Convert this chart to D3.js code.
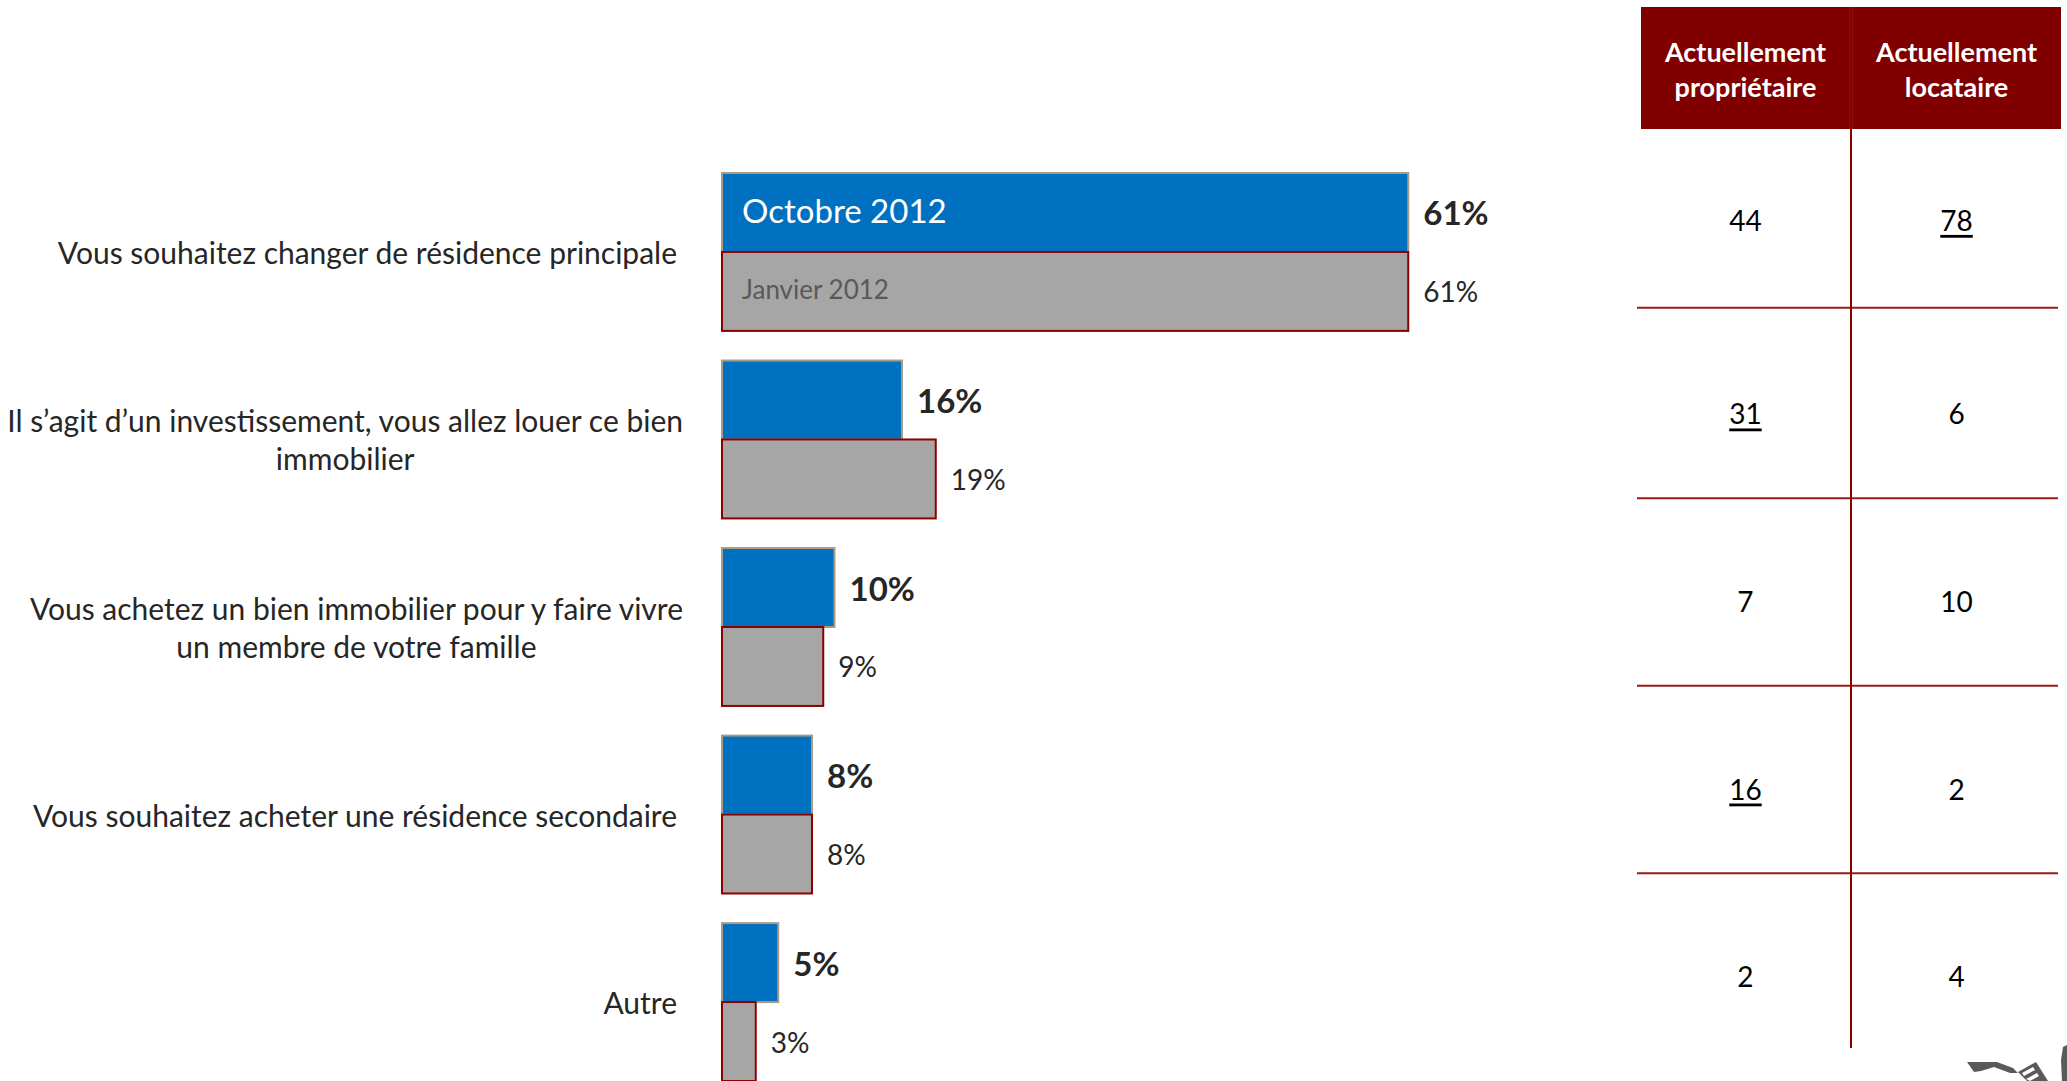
<!DOCTYPE html>
<html lang="fr">
<head>
<meta charset="utf-8">
<script src="https://cdn.jsdelivr.net/npm/d3@7"></script>
<style>
  html, body { margin: 0; padding: 0; background: #fff; }
  svg { display: block; font-family: Lato, "Open Sans", sans-serif; }
</style>
</head>
<body>
<svg id="chart" width="2067" height="1081"></svg>
<script>
// Motifs d'achat immobilier : comparaison octobre / janvier 2012, et détail par statut
const categories = [
  ["Vous souhaitez changer de résidence principale"],
  ["Il s’agit d’un investissement, vous allez louer ce bien", "immobilier"],
  ["Vous achetez un bien immobilier pour y faire vivre", "un membre de votre famille"],
  ["Vous souhaitez acheter une résidence secondaire"],
  ["Autre"]
];
const seriesNames = ["Octobre 2012", "Janvier 2012"];
const octobre2012 = [61, 16, 10, 8, 5];
const janvier2012 = [61, 19, 9, 8, 3];

const tableHeaders = [["Actuellement", "propriétaire"], ["Actuellement", "locataire"]];
const proprietaire = [44, 31, 7, 16, 2];
const locataire = [78, 6, 10, 2, 4];
// valeurs significativement supérieures (soulignées)
const proprietaireSignif = [false, true, false, true, false];
const locataireSignif = [true, false, false, false, false];

const svg = d3.select("#chart");
const BLUE = "#0070c0";
const GREY = "#a6a6a6";
const TEXT = "#262626";

// ---- scales
const x = d3.scaleLinear().domain([0, 100]).range([722, 1847]);
const y = d3.scaleBand()
  .domain(d3.range(categories.length))
  .range([173, 1081])
  .paddingInner(0.158)
  .paddingOuter(0);
const ySeries = d3.scaleBand().domain([0, 1]).range([0, y.bandwidth()]);

const rows = categories.map((lines, i) => ({
  i, lines,
  values: [octobre2012[i], janvier2012[i]]
}));

// ---- category labels (text boxes right-bounded, lines centred)
const labelRight = 683;
const lineGap = 38;
const labelG = svg.append("g");
rows.forEach(r => {
  const cy = y(r.i) + y.bandwidth() / 2;
  const t = labelG.append("text")
    .attr("fill", TEXT)
    .attr("font-size", 30)
    .attr("text-anchor", "middle")
    .attr("dominant-baseline", "central");
  r.lines.forEach((ln, k) => {
    t.append("tspan").text(ln)
      .attr("y", cy + (k - (r.lines.length - 1) / 2) * lineGap);
  });
  // width of longest line defines the box centre
  let w = 0;
  t.selectAll("tspan").each(function () { w = Math.max(w, this.getComputedTextLength()); });
  const right = r.lines.length > 1 ? labelRight : labelRight - 6;
  t.selectAll("tspan").attr("x", right - w / 2);
});

// ---- bars
const groups = svg.append("g").selectAll("g").data(rows).join("g")
  .attr("transform", d => `translate(0,${y(d.i)})`);

groups.selectAll("rect").data(d => d.values.map((v, s) => ({ v, s, i: d.i }))).join("rect")
  .attr("x", x(0))
  .attr("y", d => ySeries(d.s))
  .attr("width", d => x(d.v) - x(0))
  .attr("height", ySeries.bandwidth())
  .attr("fill", d => d.s === 0 ? BLUE : GREY)
  .attr("stroke", d => d.s === 0 ? "#a89c84" : "#8b0000")
  .attr("stroke-width", 2);

// value labels
groups.selectAll("text.val").data(d => d.values.map((v, s) => ({ v, s }))).join("text")
  .attr("class", "val")
  .attr("x", d => x(d.v) + 15)
  .attr("y", d => ySeries(d.s) + ySeries.bandwidth() / 2)
  .attr("dominant-baseline", "central")
  .attr("fill", TEXT)
  .attr("font-size", d => d.s === 0 ? 33 : 28)
  .attr("font-weight", d => d.s === 0 ? 700 : 400)
  .text(d => d.v + "%");

// series names inside the first pair of bars
const first = groups.filter(d => d.i === 0);
first.append("text")
  .attr("x", x(0) + 20)
  .attr("y", ySeries(0) + ySeries.bandwidth() / 2 - 2)
  .attr("dominant-baseline", "central")
  .attr("fill", "#ffffff")
  .attr("font-size", 33)
  .text(seriesNames[0]);
first.append("text")
  .attr("x", x(0) + 20)
  .attr("y", ySeries(1) + ySeries.bandwidth() / 2 - 2)
  .attr("dominant-baseline", "central")
  .attr("fill", "#595959")
  .attr("font-size", 26)
  .text(seriesNames[1]);

// ---- side table
const colX = d3.scaleBand().domain([0, 1]).range([1641, 2061]).paddingInner(0.01);
const tableG = svg.append("g");
const headTop = 7, headBottom = 129;

tableHeaders.forEach((lines, c) => {
  tableG.append("rect")
    .attr("x", colX(c)).attr("y", headTop)
    .attr("width", colX.bandwidth()).attr("height", headBottom - headTop)
    .attr("fill", "#800000");
  const t = tableG.append("text")
    .attr("text-anchor", "middle")
    .attr("fill", "#ffffff")
    .attr("font-size", 27)
    .attr("font-weight", 700)
    .attr("dominant-baseline", "central");
  lines.forEach((ln, k) => {
    t.append("tspan").text(ln)
      .attr("x", colX(c) + colX.bandwidth() / 2)
      .attr("y", (headTop + headBottom) / 2 + (k - 0.5) * 35);
  });
});

const rowY = i => y(i) + y.bandwidth() / 2 - (i === 0 ? 32 : 26);
const tableLeft = 1637, tableRight = 2058;
const colMid = (colX(0) + colX.bandwidth() + colX(1)) / 2;

// row separators between table rows
d3.range(categories.length - 1).forEach(i => {
  const sy = (rowY(i) + rowY(i + 1)) / 2 - 9;
  tableG.append("line")
    .attr("x1", tableLeft).attr("x2", tableRight)
    .attr("y1", sy).attr("y2", sy)
    .attr("stroke", "#9b1b1b").attr("stroke-width", 2);
});
// column divider
tableG.append("line")
  .attr("x1", colMid).attr("x2", colMid)
  .attr("y1", headTop).attr("y2", rowY(categories.length - 1) + 72)
  .attr("stroke", "#8b0000").attr("stroke-width", 2);

[[proprietaire, proprietaireSignif], [locataire, locataireSignif]].forEach(([vals, sig], c) => {
  vals.forEach((v, i) => {
    tableG.append("text")
      .attr("x", colX(c) + colX.bandwidth() / 2)
      .attr("y", rowY(i))
      .attr("text-anchor", "middle")
      .attr("dominant-baseline", "central")
      .attr("font-size", 28)
      .attr("fill", "#000")
      .attr("text-decoration", sig[i] ? "underline" : null)
      .text(v);
  });
});

// ---- partial logo in the bottom-right corner
const logo = svg.append("g").attr("fill", "#5a5a5a");
logo.append("path").attr("d",
  "M1967,1062 L1997,1062 L2013,1068 L2018,1073 L2010,1073 L1994,1067 L1981,1071 L1974,1072 Z");
logo.append("path").attr("d",
  "M2018,1072 L2036,1062 L2048,1081 L2027,1081 Z");
logo.append("path").attr("fill", "#fff").attr("d",
  "M2022,1073 L2033,1067 L2035,1070 L2024,1076 Z M2026,1079 L2037,1073 L2039,1076 L2030,1081 Z");
logo.append("path").attr("d",
  "M2063,1047 L2067,1045 L2067,1081 L2062,1081 L2061,1060 Z");
</script>
</body>
</html>
